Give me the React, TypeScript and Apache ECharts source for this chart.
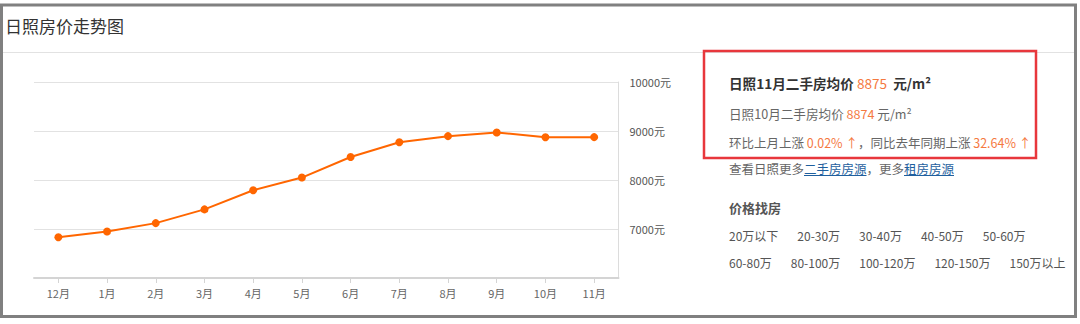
import React, { useEffect, useRef } from "react";
import * as echarts from "echarts";

const months = ["12月", "1月", "2月", "3月", "4月", "5月", "6月", "7月", "8月", "9月", "10月", "11月"];
const prices = [6830, 6950, 7120, 7400, 7790, 8050, 8470, 8770, 8895, 8970, 8874, 8875];
const yMin = 6000;
const yMax = 10000;
const yStep = 1000;
const yUnit = "元";

const chartTitle = "日照房价走势图";
const city = "日照";
const curMonth = "11月";
const prevMonth = "10月";
const curPrice = "8875";
const prevPrice = "8874";
const momChange = "0.02%";
const yoyChange = "32.64%";
const priceRow1 = ["20万以下", "20-30万", "30-40万", "40-50万", "50-60万"];
const priceRow2 = ["60-80万", "80-100万", "100-120万", "120-150万", "150万以上"];

const FF = "'Noto Sans CJK SC', 'Noto Sans', sans-serif";
const ORANGE = "#ff6600";
const TXT_ORANGE = "#f5793f";

function measure(text: string, size: number, weight = "normal"): number {
  const c = document.createElement("canvas").getContext("2d");
  if (!c) return text.length * size;
  c.font = `${weight} ${size}px ${FF}`;
  return c.measureText(text).width;
}

export default function App() {
  const ref = useRef<HTMLDivElement>(null);
  useEffect(() => {
    if (!ref.current) return;
    const chart = echarts.init(ref.current, null, { renderer: "svg" });

    const px = 729;
    const l4a = "查看" + city + "更多";
    const l4b = "二手房房源";
    const l4c = "，更多";
    const l4d = "租房房源";
    const fs4 = 12.5;
    const xa = px;
    const xb = xa + measure(l4a, fs4);
    const xc = xb + measure(l4b, fs4);
    const xd = xc + measure(l4c, fs4);
    const xe = xd + measure(l4d, fs4);
    const y4 = 168.5;

    const rowRich = {
      it: { fontSize: 12, fontFamily: FF, fill: "#555", padding: [0, 19, 0, 0] },
    };

    const graphic: any[] = [
      { type: "rect", shape: { x: 1.5, y: 5, width: 1074, height: 311.5 }, style: { fill: "none", stroke: "#808080", lineWidth: 3 }, silent: true },
      { type: "line", shape: { x1: 3, y1: 52.5, x2: 1074, y2: 52.5 }, style: { stroke: "#e2e2e2", lineWidth: 1 } },
      { type: "text", x: 5, y: 25, style: { text: chartTitle, fontSize: 17, fontFamily: FF, fill: "#333", verticalAlign: "middle" } },
      { type: "rect", shape: { x: 704, y: 51, width: 332, height: 107 }, style: { fill: "none", stroke: "#e8373c", lineWidth: 2.5 } },
      {
        type: "text", x: px, y: 83,
        style: {
          text: `{b|${city}${curMonth}二手房均价 }{o|${curPrice}}{b|  元/m²}`,
          verticalAlign: "middle",
          rich: {
            b: { fontSize: 13.6, fontWeight: "bold", fontFamily: FF, fill: "#333" },
            o: { fontSize: 13.6, fontFamily: FF, fill: TXT_ORANGE },
          },
        },
      },
      {
        type: "text", x: px, y: 113,
        style: {
          text: `{n|${city}${prevMonth}二手房均价 }{o|${prevPrice}}{n| 元/m²}`,
          verticalAlign: "middle",
          rich: {
            n: { fontSize: 12.6, fontFamily: FF, fill: "#666" },
            o: { fontSize: 12.6, fontFamily: FF, fill: TXT_ORANGE },
          },
        },
      },
      {
        type: "text", x: px, y: 142,
        style: {
          text: `{n|环比上月上涨 }{o|${momChange} ↑}{n|，同比去年同期上涨 }{o|${yoyChange} ↑}`,
          verticalAlign: "middle",
          rich: {
            n: { fontSize: 12.5, fontFamily: FF, fill: "#666" },
            o: { fontSize: 12.5, fontFamily: FF, fill: TXT_ORANGE },
          },
        },
      },
      { type: "text", x: xa, y: y4, style: { text: l4a, fontSize: fs4, fontFamily: FF, fill: "#666", verticalAlign: "middle" } },
      { type: "text", x: xb, y: y4, style: { text: l4b, fontSize: fs4, fontFamily: FF, fill: "#1f5f9e", verticalAlign: "middle" } },
      { type: "line", shape: { x1: xb, y1: y4 + 7, x2: xc, y2: y4 + 7 }, style: { stroke: "#1f5f9e", lineWidth: 1 } },
      { type: "text", x: xc, y: y4, style: { text: l4c, fontSize: fs4, fontFamily: FF, fill: "#666", verticalAlign: "middle" } },
      { type: "text", x: xd, y: y4, style: { text: l4d, fontSize: fs4, fontFamily: FF, fill: "#1f5f9e", verticalAlign: "middle" } },
      { type: "line", shape: { x1: xd, y1: y4 + 7, x2: xe, y2: y4 + 7 }, style: { stroke: "#1f5f9e", lineWidth: 1 } },
      { type: "text", x: px, y: 207, style: { text: "价格找房", fontSize: 13, fontWeight: "bold", fontFamily: FF, fill: "#555", verticalAlign: "middle" } },
      { type: "text", x: px, y: 235, style: { text: priceRow1.map((s) => `{it|${s}}`).join(""), verticalAlign: "middle", rich: rowRich } },
      { type: "text", x: px, y: 262, style: { text: priceRow2.map((s) => `{it|${s}}`).join(""), verticalAlign: "middle", rich: rowRich } },
    ];

    chart.setOption({
      animation: false,
      backgroundColor: "#fff",
      grid: { left: 34, right: 461.5, top: 82, bottom: 46, containLabel: false },
      xAxis: {
        type: "category",
        data: months,
        boundaryGap: true,
        axisLine: { show: true, lineStyle: { color: "#d4d4d4", width: 2 } },
        axisTick: { show: true, alignWithLabel: true, length: 5, lineStyle: { color: "#d4d4d4" } },
        axisLabel: { color: "#666", fontSize: 11, fontFamily: FF, margin: 9 },
        splitLine: { show: false },
      },
      yAxis: {
        type: "value",
        position: "right",
        min: yMin,
        max: yMax,
        interval: yStep,
        axisLine: { show: true, lineStyle: { color: "#dcdcdc", width: 1 } },
        axisTick: { show: false },
        axisLabel: {
          color: "#555",
          fontSize: 11,
          fontFamily: FF,
          margin: 11,
          formatter: (v: number) => (v === yMin ? "" : `${v}${yUnit}`),
        },
        splitLine: { show: true, lineStyle: { color: "#e2e2e2", width: 1 } },
      },
      series: [
        {
          type: "line",
          data: prices,
          symbol: "circle",
          symbolSize: 8,
          itemStyle: { color: ORANGE },
          lineStyle: { color: ORANGE, width: 2 },
        },
      ],
      graphic,
    });
    return () => chart.dispose();
  }, []);
  return <div ref={ref} style={{ position: "fixed", left: 0, top: 0, width: 1080, height: 324 }} />;
}
